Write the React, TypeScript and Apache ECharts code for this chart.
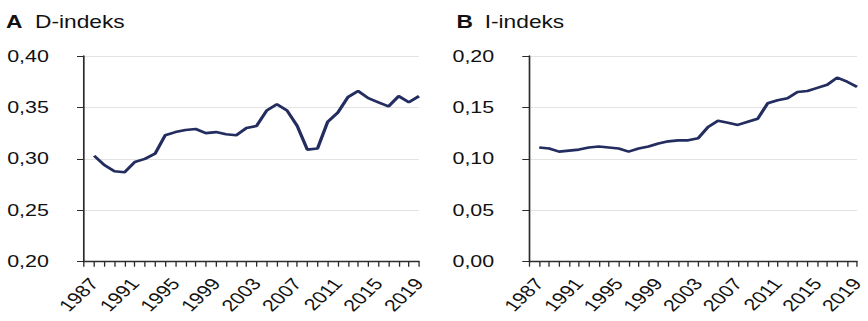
import React, { useEffect, useRef } from "react";
import * as echarts from "echarts";

// Years shown on the horizontal axes
const years = [
  1987, 1988, 1989, 1990, 1991, 1992, 1993, 1994, 1995, 1996, 1997,
  1998, 1999, 2000, 2001, 2002, 2003, 2004, 2005, 2006, 2007, 2008,
  2009, 2010, 2011, 2012, 2013, 2014, 2015, 2016, 2017, 2018, 2019,
];

// Years that carry a tick label
const labelYears = [1987, 1991, 1995, 1999, 2003, 2007, 2011, 2015, 2019];

// Panel A: D-indeks
const dIndex = [
  0.303, 0.294, 0.288, 0.287, 0.297, 0.3, 0.305, 0.323, 0.326, 0.328, 0.329,
  0.325, 0.326, 0.324, 0.323, 0.33, 0.332, 0.347, 0.353, 0.347, 0.332, 0.309,
  0.31, 0.336, 0.345, 0.36, 0.366, 0.359, 0.355, 0.351, 0.361, 0.355, 0.361,
];

// Panel B: I-indeks
const iIndex = [
  0.111, 0.11, 0.107, 0.108, 0.109, 0.111, 0.112, 0.111, 0.11, 0.107, 0.11,
  0.112, 0.115, 0.117, 0.118, 0.118, 0.12, 0.131, 0.137, 0.135, 0.133, 0.136,
  0.139, 0.154, 0.157, 0.159, 0.165, 0.166, 0.169, 0.172, 0.179, 0.175, 0.17,
];

const panelTitles = [
  { letter: "A", name: "D-indeks" },
  { letter: "B", name: "I-indeks" },
];

const yRanges = [
  { min: 0.2, max: 0.4, interval: 0.05 },
  { min: 0, max: 0.2, interval: 0.05 },
];

const FONT = '"Liberation Sans", Arial, Helvetica, sans-serif';
const LINE = "#232d5f";
const AXIS = "#2b2b2b";
const GRID = "#e2e2e2";

// The drawing is laid out on a narrower canvas and widened horizontally
const PAGE_W = 868;
const PAGE_H = 321;
const INNER_W = 668;
const SX = PAGE_W / INNER_W;

const px = (pageX: number) => pageX / SX;

export default function App() {
  const ref = useRef<HTMLDivElement>(null);

  useEffect(() => {
    if (!ref.current) return;
    const chart = echarts.init(ref.current, null, { renderer: "svg" });

    const grids = [
      { left: px(84), width: px(419) - px(84), top: 56, height: 205.7 },
      { left: px(529.3), width: px(864) - px(529.3), top: 56, height: 205.7 },
    ];

    const xAxes = grids.map((_, i) => ({
      type: "value",
      gridIndex: i,
      min: 1986,
      max: 2019,
      interval: 1,
      axisLine: { show: true, lineStyle: { color: AXIS, width: 1.3 } },
      axisTick: { show: true, length: 5, lineStyle: { color: AXIS, width: 1 } },
      splitLine: { show: false },
      axisLabel: {
        rotate: 50,
        margin: 19,
        fontFamily: FONT,
        fontSize: 16.5,
        color: "#111",
        showMinLabel: true,
        showMaxLabel: true,
        formatter: (v: number) => (labelYears.includes(v) ? String(v) : ""),
      },
    }));

    const yAxes = yRanges.map((r, i) => ({
      type: "value",
      gridIndex: i,
      min: r.min,
      max: r.max,
      interval: r.interval,
      axisLine: { show: true, lineStyle: { color: AXIS, width: 1.3 } },
      axisTick: { show: true, length: 5.4, lineStyle: { color: AXIS, width: 1 } },
      splitLine: { show: true, lineStyle: { color: GRID, width: 1.2 } },
      axisLabel: {
        margin: 27,
        fontFamily: FONT,
        fontSize: 16.5,
        color: "#111",
        formatter: (v: number) => v.toFixed(2).replace(".", ","),
      },
    }));

    const series = [dIndex, iIndex].map((vals, i) => ({
      type: "line",
      xAxisIndex: i,
      yAxisIndex: i,
      data: years.map((y, k) => [y, vals[k]]),
      showSymbol: false,
      symbol: "none",
      lineStyle: { color: LINE, width: 2.6 },
      z: 3,
    }));

    const titleX = [
      { letter: px(6), name: px(35) },
      { letter: px(456.5), name: px(484.7) },
    ];

    const graphic = panelTitles.flatMap((t, i) => [
      {
        type: "text",
        x: titleX[i].letter,
        y: 21.5,
        style: {
          text: t.letter,
          font: `bold 17.5px ${FONT}`,
          fill: "#111",
          verticalAlign: "middle",
        },
      },
      {
        type: "text",
        x: titleX[i].name,
        y: 21.5,
        style: {
          text: t.name,
          font: `17.5px ${FONT}`,
          fill: "#111",
          verticalAlign: "middle",
        },
      },
    ]);

    chart.setOption({
      animation: false,
      backgroundColor: "#ffffff",
      grid: grids,
      xAxis: xAxes,
      yAxis: yAxes,
      series,
      graphic,
    } as any);

    return () => chart.dispose();
  }, []);

  return (
    <div
      style={{
        position: "absolute",
        left: 0,
        top: 0,
        width: PAGE_W,
        height: PAGE_H,
        overflow: "hidden",
        background: "#fff",
      }}
    >
      <div
        ref={ref}
        style={{
          width: INNER_W,
          height: PAGE_H,
          transform: `scaleX(${SX})`,
          transformOrigin: "0 0",
        }}
      />
    </div>
  );
}
